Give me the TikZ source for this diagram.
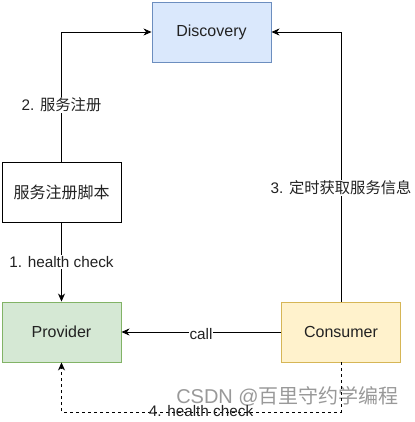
\documentclass[tikz,border=0pt]{standalone}
\usepackage{fontspec}
\setmainfont{Liberation Sans}
\newfontfamily\cjk{Noto Sans CJK SC}
\usetikzlibrary{arrows.meta}
\definecolor{dfill}{HTML}{DAE8FC}\definecolor{dline}{HTML}{6C8EBF}
\definecolor{pfill}{HTML}{D5E8D4}\definecolor{pline}{HTML}{82B366}
\definecolor{cfill}{HTML}{FFF2CC}\definecolor{cline}{HTML}{D6B656}
\definecolor{txt}{HTML}{222222}
\tikzset{
  box/.style={draw, line width=0.9pt, minimum width=119pt, minimum height=60pt, inner sep=0pt, font=\fontsize{16}{19}\selectfont, text=txt},
  arr/.style={line width=0.9pt, -{Stealth[length=8pt,width=7pt,inset=2.5pt]}},
  lbl/.style={fill=white, inner sep=1pt, font=\fontsize{15.3}{18}\selectfont, text=txt},
  wm/.style={font=\fontsize{20}{23}\selectfont, text=black!40, inner sep=0pt}
}
\begin{document}
\begin{tikzpicture}[x=1pt,y=-1pt]
\useasboundingbox (0,0) rectangle (414,422);
\fill[white] (0,0) rectangle (414,422);
\node[box, fill=dfill, draw=dline] (disc) at (211.5,32) {Discovery};
\node[box, fill=white, draw=black] (script) at (61.5,192) {\cjk 服务注册脚本};
\node[box, fill=pfill, draw=pline] (prov) at (61.5,332) {Provider};
\node[box, fill=cfill, draw=cline] (cons) at (341,332) {Consumer};
\coordinate (c1) at (61.5,32);
\coordinate (c2) at (341,32);
\coordinate (d1) at (341,412);
\coordinate (d2) at (61.5,412);
\draw[arr] (script.north) -- (c1) -- (disc.west);
\node[lbl] (l2) at (61.5,105) {2. {\cjk 服务注册}};
\draw[arr] (cons.north) -- (c2) -- (disc.east);
\node[lbl] (l3) at (341,188) {3. {\cjk 定时获取服务信息}};
\draw[arr] (script.south) -- (prov.north);
\node[lbl] (l1) at (61.5,262) {1. health check};
\draw[arr] (cons.west) -- (prov.east);
\node[lbl] (lc) at (201,334) {call};
\node[wm, anchor=east] (wm) at (399,396) {CSDN @{\cjk 百里守约学编程}};
\draw[arr, dash pattern=on 3pt off 3pt] (cons.south) -- (d1) -- (d2) -- (prov.south);
\node[lbl, fill=none] (l4) at (201,411) {4. health check};
\end{tikzpicture}
\end{document}
